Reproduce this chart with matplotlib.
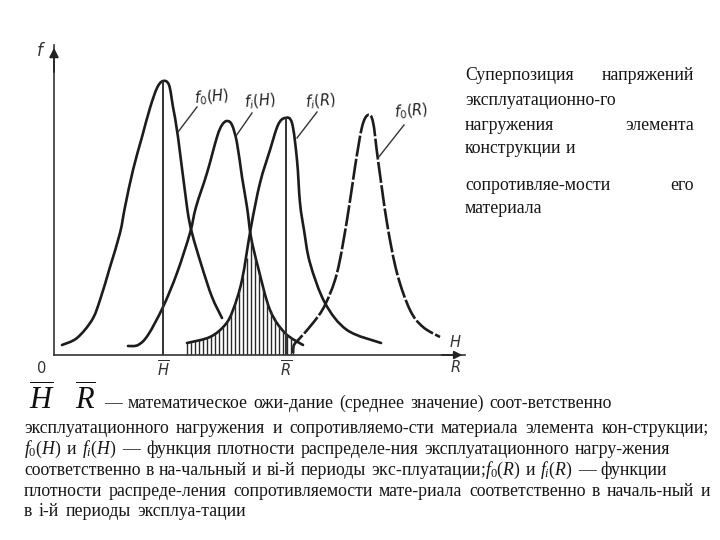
import matplotlib
matplotlib.use("Agg")
import matplotlib.pyplot as plt
from matplotlib.path import Path
from matplotlib.patches import PathPatch

W, H = 720, 540
plt.rcParams['font.family'] = ['Liberation Serif', 'DejaVu Sans']
plt.rcParams['mathtext.fontset'] = 'custom'
plt.rcParams['mathtext.rm'] = 'Liberation Serif'
plt.rcParams['mathtext.it'] = 'Liberation Serif:italic'
plt.rcParams['mathtext.bf'] = 'Liberation Serif:bold'

INK = '#1c1c1c'

# load / resistance curves (x along the H,R axis, y = f)
f0H_x = [8, 23, 38, 46, 56, 66, 71, 79, 88, 96, 103, 109, 115, 119, 124, 133, 138, 148, 158, 168]
f0H_y = [10, 17, 35, 55, 88, 122, 148, 185, 218, 247, 267, 274, 270, 248, 218, 148, 122, 88, 58, 37]

fiH_x = [74, 84, 94, 109, 123, 136, 142, 153, 163, 168, 173, 178, 183, 188, 193, 197, 204, 216, 231, 249]
fiH_y = [9, 10, 20, 48, 82, 122, 148, 182, 218, 230, 234, 230, 212, 178, 148, 118, 88, 45, 22, 10]

fiR_x = [133, 156, 171, 179, 188, 197, 206, 216, 224, 231, 238, 243, 246, 250, 256, 271, 293, 327]
fiR_y = [12, 18, 30, 45, 75, 128, 172, 205, 230, 237, 232, 195, 152, 125, 92, 52, 25, 12]

f0R_x = [239, 240, 246, 259, 271, 283, 293, 301, 308, 314, 319, 324, 333, 343, 356, 369, 386]
f0R_y = [2, 10, 17, 32, 50, 82, 135, 188, 228, 240, 233, 195, 132, 82, 45, 28, 18]

# overlap hatching: position and height of each stroke
hatch_x = [133, 137, 141, 145, 149, 153, 157, 161, 165, 169, 173, 177, 181, 185, 189, 193,
           197, 201, 205, 209, 213, 217, 221, 225, 229, 233, 237, 239]
hatch_f = [12, 13, 14, 15, 16, 17, 19, 21, 24, 28, 34, 41, 52, 65, 78, 97,
           115, 99, 83, 67, 53, 44, 37, 30, 25, 20, 17, 10]

# mean values and their peak heights
mean_x = [109, 232]
mean_f = [274, 237]
mean_labels = [r'$\overline{H}$', r'$\overline{R}$']

curve_label_texts = [r'$f_0(H)$', r'$f_i(H)$', r'$f_i(R)$', r'$f_0(R)$']
label_x = [158, 206, 266, 357]
label_f = [258, 254, 254, 244]
lead_from_x = [124, 182, 243, 324]
lead_from_f = [223, 219, 217, 197]
lead_to_x = [143, 198, 263, 350]
lead_to_f = [248, 242, 243, 230]

side_lines = [
    (['Суперпозиция', 'напряжений'], 465, 694, 75),
    (['эксплуатационно-го'], 465, None, 100),
    (['нагружения', 'элемента'], 465, 694, 125),
    (['конструкции', 'и'], 465, None, 148),
    (['сопротивляе-мости', 'его'], 465, 694, 185),
    (['материала'], 465, None, 208),
]

bottom_lines = [
    ('— математическое ожи-дание (среднее значение) соот-ветственно', 104, 612, 403),
    ('эксплуатационного нагружения и сопротивляемо-сти материала элемента кон-струкции;', 24, 709, 428),
    (r'$f_0(H)$ и $f_i(H)$ — функция плотности распределе-ния эксплуатационного нагру-жения', 24, 670, 449),
    (r'соответственно в на-чальный и вi-й периоды экс-плуатации;$f_0(R)$ и $f_i(R)$ — функции', 24, 667, 470),
    ('плотности распреде-ления сопротивляемости мате-риала соответственно в началь-ный и', 24, 710, 491),
    ('в i-й периоды эксплуа-тации', 24, 246, 511),
]

fig = plt.figure(figsize=(W / 100, H / 100), dpi=100, facecolor='white')

# chart axes, origin at the crossing of the axes of the drawing
ax = fig.add_axes([54 / W, (H - 355) / H, 411 / W, 310 / H])
ax.set_xlim(0, 411)
ax.set_ylim(0, 310)
ax.patch.set_alpha(0)
for s in ('top', 'right'):
    ax.spines[s].set_visible(False)
for s in ('left', 'bottom'):
    ax.spines[s].set_linewidth(1.2)
    ax.spines[s].set_color('#333333')
ax.set_yticks([])
ax.set_xticks(mean_x)
ax.set_xticklabels(mean_labels, fontsize=10.5, color='#333333')
for lab in ax.get_xticklabels():
    lab.set_math_fontfamily('dejavusans')
ax.tick_params(axis='x', length=0, pad=3)


def smooth_path(xs, ys):
    """Draw the read points through a smooth Bezier pen stroke."""
    verts = [(xs[0], ys[0])]
    codes = [Path.MOVETO]
    n = len(xs)
    for i in range(n - 1):
        a = max(i - 1, 0)
        d = min(i + 2, n - 1)
        verts.append((xs[i] + (xs[i + 1] - xs[a]) / 6, ys[i] + (ys[i + 1] - ys[a]) / 6))
        verts.append((xs[i + 1] - (xs[d] - xs[i]) / 6, ys[i + 1] - (ys[d] - ys[i]) / 6))
        verts.append((xs[i + 1], ys[i + 1]))
        codes += [Path.CURVE4] * 3
    return Path(verts, codes)


for xs, ys in ((f0H_x, f0H_y), (fiH_x, fiH_y), (fiR_x, fiR_y)):
    ax.add_patch(PathPatch(smooth_path(xs, ys), fill=False, edgecolor=INK, lw=1.9, capstyle='round'))
ax.add_patch(PathPatch(smooth_path(f0R_x, f0R_y), fill=False, edgecolor=INK, lw=1.9,
                       linestyle=(0, (8, 0.9))))

ax.vlines(hatch_x, 0, hatch_f, color='#2a2a2a', lw=1.0)
ax.vlines(mean_x, 0, mean_f, color='#333333', lw=1.4)

for x0, y0, x1, y1 in zip(lead_from_x, lead_from_f, lead_to_x, lead_to_f):
    ax.plot([x0, x1], [y0, y1], color='#333333', lw=1.0)
for t, x, y in zip(curve_label_texts, label_x, label_f):
    ax.text(x, y, t, fontsize=10.5, ha='center', va='center', color='#222222',
            math_fontfamily='dejavusans', rotation=5)

ax.annotate('', xy=(0, 310), xytext=(0, 280),
            arrowprops=dict(arrowstyle='-|>', color='#222222', lw=1.2, mutation_scale=14))
ax.annotate('', xy=(411, 0), xytext=(385, 0),
            arrowprops=dict(arrowstyle='-|>', color='#222222', lw=1.2, mutation_scale=12))
for t, x, y, fs in ((r'$f$', -13, 304, 12), (r'$0$', -13, -13, 10.5),
                    (r'$H$', 401, 13, 10.5), (r'$R$', 401, -12, 10.5)):
    ax.text(x, y, t, fontsize=fs, ha='center', va='center', color='#333333',
            math_fontfamily='dejavusans')

# page text
page = fig.add_axes([0, 0, 1, 1])
page.set_xlim(0, W)
page.set_ylim(H, 0)
page.axis('off')
renderer = fig.canvas.get_renderer()
FS = 12.8


def justified(words, x0, x1, y, fs=FS):
    items = [page.text(x0, y, w, fontsize=fs, ha='left', va='baseline', color='#161616') for w in words]
    widths = [t.get_window_extent(renderer).width for t in items]
    gap = 4.0 if (x1 is None or len(words) == 1) else (x1 - x0 - sum(widths)) / (len(words) - 1)
    x = x0
    for t, w in zip(items, widths):
        t.set_x(x)
        x += w + gap


for words, x0, x1, y in side_lines:
    justified(words, x0, x1, y + 5)
for s, x0, x1, y in bottom_lines:
    justified(s.split(' '), x0, x1, y + 5)

page.text(42, 410, r'$\overline{H}$', fontsize=22, ha='center', va='baseline', color='#111111')
page.text(85, 410, r'$\overline{R}$', fontsize=22, ha='center', va='baseline', color='#111111')

fig.savefig('out.png', dpi=100, facecolor='white')
